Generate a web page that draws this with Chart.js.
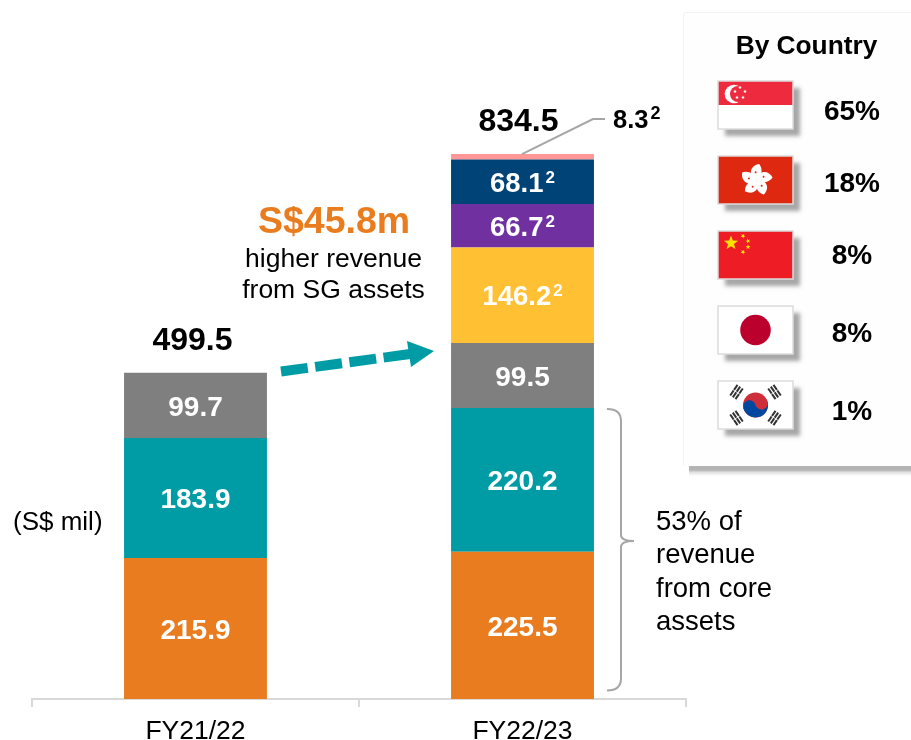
<!DOCTYPE html>
<html><head><meta charset="utf-8">
<style>html,body{margin:0;padding:0;background:#fff;overflow:hidden}canvas{display:block}</style>
<script src="https://cdn.jsdelivr.net/npm/chart.js@4"></script></head>
<body><canvas id="c" width="911" height="740"></canvas>
<script>
const categories = ['FY21/22','FY22/23'];
const orangeValues = [215.9,225.5];
const tealValues = [183.9,220.2];
const greyValues = [99.7,99.5];
const yellowValues = [null,146.2];
const purpleValues = [null,66.7];
const navyValues = [null,68.1];
const pinkValues = [null,8.3];
const totals = [499.5,834.5];
const countryLabels = ['65%','18%','8%','8%','1%'];
const FONT = '"Liberation Sans", Arial, sans-serif';

function txt(ctx,s,x,y,size,color,bold,align){
  ctx.font=(bold?'bold ':'')+size+'px '+FONT;
  ctx.fillStyle=color;ctx.textAlign=align||'center';ctx.textBaseline='middle';
  ctx.fillText(s,x,y+1.5);
}
function sup(ctx,s,x,y,size,color){ // centred text followed by superscript 2
  ctx.font='bold '+size+'px '+FONT;
  const w=ctx.measureText(s).width;
  const sz=Math.round(size*0.62);
  ctx.font='bold '+sz+'px '+FONT;
  const w2=ctx.measureText('2').width;
  const left=x-(w+w2+2)/2;
  txt(ctx,s,left,y,size,color,true,'left');
  txt(ctx,'2',left+w+2,y-size*0.22,sz,color,true,'left');
}
function flagFrame(ctx,x,y,w,h,paint){
  ctx.save();
  ctx.shadowColor='rgba(0,0,0,0.34)';ctx.shadowBlur=4;ctx.shadowOffsetX=7;ctx.shadowOffsetY=7;
  ctx.fillStyle='#fff';ctx.fillRect(x,y,w,h);
  ctx.restore();
  ctx.save();ctx.beginPath();ctx.rect(x,y,w,h);ctx.clip();paint(ctx,x,y,w,h);ctx.restore();
  ctx.strokeStyle='#dcdcdc';ctx.lineWidth=1.5;ctx.strokeRect(x,y,w,h);
}
function star(ctx,cx,cy,r,color,rot){
  ctx.fillStyle=color;ctx.beginPath();
  for(let i=0;i<10;i++){
    const a=-Math.PI/2+(rot||0)+i*Math.PI/5,rr=i%2?r*0.42:r;
    ctx[i?'lineTo':'moveTo'](cx+rr*Math.cos(a),cy+rr*Math.sin(a));
  }
  ctx.closePath();ctx.fill();
}
function trigram(ctx,cx,cy,ang,col){
  ctx.save();ctx.translate(cx,cy);ctx.rotate(ang);ctx.fillStyle=col;
  for(let i=-1;i<=1;i++){ctx.fillRect(i*3.2-1,-6.5,2,13);}
  ctx.fillStyle='#fff';ctx.fillRect(-8,-0.4,16,0.8);
  ctx.restore();
}
const paints=[
 (c,x,y,w,h)=>{c.fillStyle='#EE2A3E';c.fillRect(x,y,w,h/2);
   c.fillStyle='#fff';c.beginPath();c.arc(x+16,y+13,9.3,0,7);c.fill();
   c.fillStyle='#EE2A3E';c.beginPath();c.arc(x+20,y+13,8,0,7);c.fill();
   [[22,6.5],[27,10.5],[25,16.5],[19,16.5],[17,10.5]].forEach(p=>star(c,x+p[0],y+p[1],2,'#fff'));},
 (c,x,y,w,h)=>{c.fillStyle='#DE2910';c.fillRect(x,y,w,h);
   const cx=x+w/2+1,cy=y+h/2;
   for(let i=0;i<5;i++){c.save();c.translate(cx,cy);c.rotate(i*2*Math.PI/5+0.1);c.scale(1.08,1.08);
     c.fillStyle='#fff';c.beginPath();c.moveTo(0,0);c.bezierCurveTo(-9,-4,-7,-13,1,-15);c.bezierCurveTo(5,-11,5,-4,0,0);c.fill();
     c.fillStyle='#DE2910';c.beginPath();c.arc(-1.5,-7,0.9,0,7);c.fill();c.restore();}},
 (c,x,y,w,h)=>{c.fillStyle='#EE1C25';c.fillRect(x,y,w,h);
   star(c,x+13,y+12,7.5,'#FFE000');
   star(c,x+25,y+5,2.6,'#FFE000',0.5);star(c,x+30,y+10,2.6,'#FFE000',0.9);
   star(c,x+30,y+16,2.6,'#FFE000',0);star(c,x+25,y+21,2.6,'#FFE000',0.5);},
 (c,x,y,w,h)=>{c.fillStyle='#fff';c.fillRect(x,y,w,h);
   c.fillStyle='#BC002D';c.beginPath();c.arc(x+w/2,y+h/2,15.3,0,7);c.fill();},
 (c,x,y,w,h)=>{c.fillStyle='#fff';c.fillRect(x,y,w,h);
   const cx=x+w/2,cy=y+h/2,r=12.5;
   c.fillStyle='#CD2E3A';c.beginPath();c.arc(cx,cy,r,0,7);c.fill();
   c.fillStyle='#0047A0';c.beginPath();c.arc(cx,cy,r,-0.25,Math.PI-0.25);c.fill();
   const dx=Math.cos(-0.25)*r/2,dy=Math.sin(-0.25)*r/2;
   c.beginPath();c.arc(cx-dx,cy-dy,r/2,0,7);c.fill();
   c.fillStyle='#CD2E3A';c.beginPath();c.arc(cx+dx,cy+dy,r/2,0,7);c.fill();
   const k='#333';
   trigram(c,cx-19,cy-13,0.6,k);trigram(c,cx+19,cy-13,-0.6,k);
   trigram(c,cx-19,cy+13,-0.6,k);trigram(c,cx+19,cy+13,0.6,k);}
];
const overlay={id:'overlay',afterDraw(chart){
  const ctx=chart.ctx,xs=chart.scales.x,ys=chart.scales.y;
  // values in the bars
  chart.data.datasets.forEach((ds,di)=>{
    const meta=chart.getDatasetMeta(di);
    meta.data.forEach((el,i)=>{
      const v=ds.data[i];if(v==null||di===6)return;
      const y=(el.y+el.base)/2+1;
      if(di>=3&&di<=5)sup(ctx,v.toFixed(1),el.x,y,27.5,'#fff');
      else txt(ctx,v.toFixed(1),el.x,y,28,'#fff',true);
    });
  });
  // totals
  txt(ctx,totals[0].toFixed(1),xs.getPixelForValue(0)-3,ys.getPixelForValue(totals[0])-33,32,'#000',true);
  txt(ctx,totals[1].toFixed(1),xs.getPixelForValue(1)-4,ys.getPixelForValue(totals[1])-33,32,'#000',true);
  // leader to the small top slice
  ctx.strokeStyle='#a6a6a6';ctx.lineWidth=2;ctx.beginPath();
  const topY=ys.getPixelForValue(totals[1]);
  ctx.moveTo(522,topY);ctx.lineTo(593,119);ctx.lineTo(605,119);ctx.stroke();
  const last=pinkValues[1];
  ctx.font='bold 25.5px '+FONT;
  const lw=ctx.measureText(last.toFixed(1)).width;
  txt(ctx,last.toFixed(1),613,119,25.5,'#000',true,'left');
  txt(ctx,'2',613+lw+2,113,18,'#000',true,'left');
  // callout
  txt(ctx,'S$45.8m',334,221,37.5,'#E97C1E',true);
  txt(ctx,'higher revenue',333.5,258,26.5,'#000');
  txt(ctx,'from SG assets',333.5,289,26.5,'#000');
  txt(ctx,'(S$ mil)',13,521,26,'#000',false,'left');
  // dashed arrow
  ctx.strokeStyle='#009CA6';ctx.lineWidth=10;ctx.setLineDash([27,7.5]);ctx.beginPath();
  ctx.moveTo(281,371.5);ctx.lineTo(410,354);ctx.stroke();ctx.setLineDash([]);
  ctx.fillStyle='#009CA6';ctx.beginPath();ctx.moveTo(407,341);ctx.lineTo(434,351);ctx.lineTo(411,367);ctx.closePath();ctx.fill();
  // brace
  const by0=ys.getPixelForValue(orangeValues[1]+tealValues[1])+1, by1=ys.getPixelForValue(13), bm=541;
  ctx.strokeStyle='#a6a6a6';ctx.lineWidth=2;ctx.beginPath();
  ctx.moveTo(607,by0);ctx.quadraticCurveTo(621,by0,621,by0+12);
  ctx.lineTo(621,bm-6);ctx.quadraticCurveTo(621,bm,634,bm);
  ctx.quadraticCurveTo(621,bm,621,bm+6);
  ctx.lineTo(621,by1-12);ctx.quadraticCurveTo(621,by1,607,by1);ctx.stroke();
  ['53% of','revenue','from core','assets'].forEach((t,i)=>txt(ctx,t,656,[521,554,588,621][i],27.5,'#000',false,'left'));
  // country panel
  ctx.fillStyle='#fefefe';ctx.fillRect(684,13,227,453);
  ctx.strokeStyle='#f3f3f3';ctx.lineWidth=1;ctx.beginPath();ctx.moveTo(683.5,13);ctx.lineTo(683.5,466);ctx.moveTo(684,12.5);ctx.lineTo(911,12.5);ctx.stroke();
  const g=ctx.createLinearGradient(0,466,0,476);
  g.addColorStop(0,'#b4b4b4');g.addColorStop(0.4,'#b4b4b4');g.addColorStop(0.65,'#e2e2e2');g.addColorStop(1,'#ffffff');
  ctx.fillStyle=g;ctx.fillRect(689,466,222,10);
  txt(ctx,'By Country',806.5,45,26.3,'#000',true);
  const fy=[81,156,231,306,381],py=[111,183,255,333,411];
  paints.forEach((p,i)=>{
    flagFrame(ctx,718,fy[i],75,48,p);
    txt(ctx,countryLabels[i],852,py[i],28,'#000',true);
  });
}};
new Chart(document.getElementById('c'),{
  type:'bar',
  data:{labels:categories,datasets:[
    {data:orangeValues,backgroundColor:'#E97C1E'},
    {data:tealValues,backgroundColor:'#009CA6'},
    {data:greyValues,backgroundColor:'#7F7F7F'},
    {data:yellowValues,backgroundColor:'#FFC133'},
    {data:purpleValues,backgroundColor:'#7030A0'},
    {data:navyValues,backgroundColor:'#004376'},
    {data:pinkValues,backgroundColor:'#FF9797'}
  ]},
  options:{
    responsive:false,animation:false,
    layout:{padding:{left:32,right:225,top:46,bottom:0}},
    plugins:{legend:{display:false},tooltip:{enabled:false},title:{display:false}},
    datasets:{bar:{barPercentage:0.437,categoryPercentage:1,borderWidth:0}},
    scales:{
      x:{stacked:true,
        afterFit(s){s.height=41;},
        border:{color:'#d9d9d9',width:2},
        grid:{offset:true,drawOnChartArea:false,drawTicks:true,tickLength:8,color:'#d9d9d9',lineWidth:2},
        ticks:{color:'#000',font:{family:FONT,size:26.5},padding:9,maxRotation:0}},
      y:{stacked:true,display:false,min:0,max:1000}
    }
  },
  plugins:[overlay]
});
</script></body></html>
